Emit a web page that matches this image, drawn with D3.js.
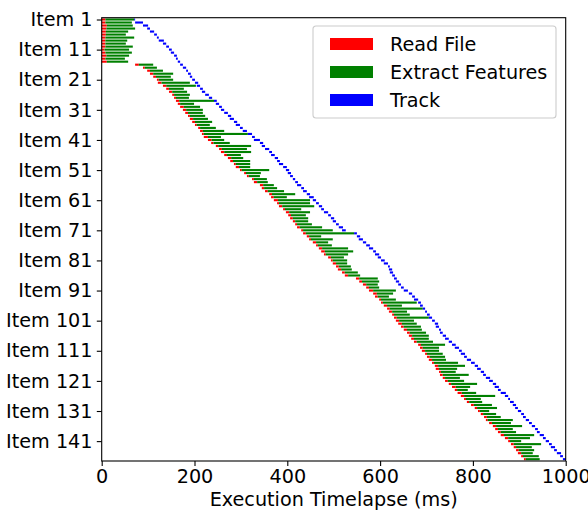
<!DOCTYPE html>
<html>
<head>
<meta charset="utf-8">
<script src="https://cdn.jsdelivr.net/npm/d3@7"></script>
<style>
body{margin:0;background:white;}
</style>
</head>
<body>
<div id="viz-container"></div>
<script>
// timings per item in ms
let readStart = [0,0,0,0,0,0,0,0,0,0,0,0,0,0,0,72,89,98,104,111,119,121,132,139,145,152,156,160,164,169,175,180,186,190,195,201,208,212,216,220,229,236,246,253,257,264,272,277,285,289,298,307,313,324,328,341,345,352,361,365,371,378,382,391,397,402,406,412,417,421,430,434,442,447,455,462,468,473,479,488,494,498,505,509,518,524,548,555,563,570,576,585,589,598,602,608,615,619,626,630,634,639,645,651,658,662,667,673,682,686,690,697,701,705,712,718,720,727,729,735,740,748,755,761,767,774,781,787,796,804,811,817,824,828,835,843,848,854,860,869,876,882,888,893,897,904,910];
let readEnd = [8,8,11,10,9,9,8,8,8,8,6,8,10,8,11,80,93,104,111,117,123,129,139,145,152,156,160,167,169,177,182,186,190,197,201,205,212,218,220,229,237,241,251,259,264,270,279,283,289,296,302,311,317,328,335,348,350,358,367,371,380,382,389,395,404,408,412,417,421,427,434,440,447,451,462,466,475,481,483,494,498,505,511,516,524,531,555,561,570,576,585,593,595,602,606,615,621,626,630,636,641,647,651,658,664,669,673,679,688,692,697,701,707,712,716,725,727,731,735,740,746,753,763,766,776,781,785,792,802,809,815,822,830,832,841,850,854,860,867,876,880,888,893,899,904,908,914];
let extractEnd = [70,65,67,72,57,52,70,55,52,67,59,65,59,50,57,111,119,132,154,149,154,190,203,177,184,190,188,242,199,212,218,218,223,229,238,233,246,264,315,257,264,276,322,313,322,300,305,320,320,320,361,343,341,356,358,371,378,393,417,399,449,449,458,430,449,440,445,445,453,475,498,544,473,498,488,496,531,542,531,522,529,529,537,539,552,557,595,598,595,598,634,628,619,634,679,647,692,658,664,705,673,679,688,690,699,705,705,714,740,727,727,735,740,742,768,783,766,763,791,772,781,809,794,789,807,848,817,820,841,852,835,850,860,886,882,906,886,893,932,923,904,947,927,932,929,942,944];
let trackStart = [70,72,89,98,104,113,119,123,132,139,145,149,156,160,164,169,175,182,186,190,195,201,205,212,216,223,231,242,246,253,257,264,272,276,285,289,298,304,315,324,328,341,345,352,361,365,373,378,382,391,397,401,406,412,417,421,430,434,442,447,455,462,468,473,479,488,494,498,505,511,518,544,550,554,563,570,576,585,589,595,602,608,617,619,621,626,630,634,639,645,651,662,669,673,682,686,692,697,701,705,712,718,720,727,729,735,740,748,755,761,770,774,781,787,796,804,809,817,822,828,835,843,847,854,860,869,876,880,886,891,897,904,908,914,921,927,934,938,944,951,957,964,968,975,981,988,994];
let trackEnd = [72,89,100,104,113,119,123,134,139,145,151,156,162,164,169,175,182,186,192,195,201,208,212,218,223,231,238,248,253,259,264,272,279,285,292,298,304,313,324,330,341,348,352,361,367,373,380,384,391,399,404,408,412,417,423,430,436,442,449,457,462,468,475,479,488,494,501,505,511,520,526,550,557,563,570,578,585,591,598,602,610,617,621,626,628,632,636,641,645,651,660,669,675,682,688,692,697,701,707,712,718,725,727,731,735,742,748,755,763,770,776,783,787,796,804,811,817,824,828,837,843,850,856,860,871,876,880,888,893,897,904,910,914,921,927,934,940,944,953,957,964,970,977,981,990,994,1000];

let tickItems = [1,11,21,31,41,51,61,71,81,91,101,111,121,131,141];
let xTicks = [0,200,400,600,800,1000];
let legendNames = ["Read File","Extract Features","Track"];
let legendColors = ["red","green","blue"];

let svgWidth = 588;
let svgHeight = 513;
let plotLeft = 101.7, plotRight = 565.7, plotTop = 17.7, plotBottom = 461;
let fontSize = 19.2;
let barH = 0.7;
let n = readStart.length;

let items = readStart.map(function(d,i){
    return {i:i, rs:d, re:readEnd[i], ee:extractEnd[i], ts:trackStart[i], te:trackEnd[i]};
});

let viz = d3.select("#viz-container")
 .append("svg")
    .attr("width",svgWidth)
    .attr("height",svgHeight)
    .style("background-color","white")
    .style("font-family","'DejaVu Sans', sans-serif")
    ;

let xScale = d3.scaleLinear().domain([0,1000]).range([plotLeft,plotRight]);
let yScale = d3.scaleLinear().domain([-0.6, n-0.4]).range([plotTop,plotBottom]);
let bh = yScale(barH) - yScale(0);

// bars
function drawBars(cls, startKey, endKey, color){
    viz.selectAll("." + cls).data(items).enter()
        .append("rect")
        .attr("class", cls)
        .attr("x", d => xScale(d[startKey]))
        .attr("y", d => yScale(d.i) - bh/2)
        .attr("width", d => Math.max(0, xScale(d[endKey]) - xScale(d[startKey])))
        .attr("height", bh)
        .attr("fill", color)
        ;
}
drawBars("readBar","rs","re","red");
drawBars("extractBar","re","ee","green");
drawBars("trackBar","ts","te","blue");

// axes
let xAxis = d3.axisBottom(xScale)
    .tickValues(xTicks)
    .tickFormat(d3.format("d"))
    .tickSize(4.9).tickPadding(3.8);
let yAxis = d3.axisLeft(yScale)
    .tickValues(tickItems.map(d => d-1))
    .tickFormat(d => "Item " + (d+1))
    .tickSize(4.9).tickPadding(4.3);

let gx = viz.append("g")
    .attr("transform","translate(0," + plotBottom + ")")
    .call(xAxis);
let gy = viz.append("g")
    .attr("transform","translate(" + plotLeft + ",0)")
    .call(yAxis);

[gx, gy].forEach(function(g){
    g.select(".domain").remove();
    g.selectAll("line").attr("stroke","black").attr("stroke-width",1.1);
    g.selectAll("text").attr("font-size",fontSize).attr("font-family","'DejaVu Sans', sans-serif").attr("fill","black");
});

// frame
viz.append("rect")
    .attr("x",plotLeft)
    .attr("y",plotTop)
    .attr("width",plotRight-plotLeft)
    .attr("height",plotBottom-plotTop)
    .attr("fill","none")
    .attr("stroke","black")
    .attr("stroke-width",1.1)
    ;

viz.append("text")
    .text("Execution Timelapse (ms)")
    .attr("x",(plotLeft+plotRight)/2)
    .attr("y",505.5)
    .attr("text-anchor","middle")
    .attr("font-size",fontSize)
    ;

// legend
let legend = viz.append("g").attr("transform","translate(313,26)");
legend.append("rect")
    .attr("width",243)
    .attr("height",92)
    .attr("rx",3)
    .attr("fill","white")
    .attr("fill-opacity",0.8)
    .attr("stroke","#cccccc")
    .attr("stroke-width",1.1)
    ;
let entries = legend.selectAll(".entry").data(legendNames).enter()
    .append("g")
    .attr("class","entry")
    .attr("transform",(d,i) => "translate(0," + (18 + i*28) + ")")
    ;
entries.append("rect")
    .attr("x",17)
    .attr("y",-6)
    .attr("width",43)
    .attr("height",12)
    .attr("fill",(d,i) => legendColors[i])
    ;
entries.append("text")
    .text(d => d)
    .attr("x",77)
    .attr("y",7)
    .attr("font-size",fontSize)
    ;
</script>
</body>
</html>
